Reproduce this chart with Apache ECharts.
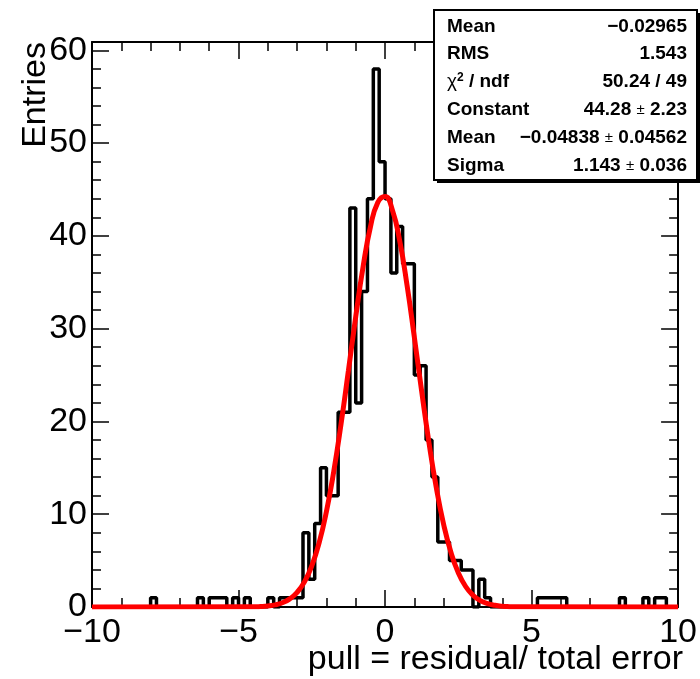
<!DOCTYPE html>
<html><head><meta charset="utf-8">
<script src="https://cdn.jsdelivr.net/npm/echarts@6/dist/echarts.min.js"></script>
<style>html,body{margin:0;padding:0;background:#fff}#c{width:700px;height:679px}</style>
</head><body><div id="c"></div>
<script>
// ---- data ----
const histMin = -10, histMax = 10, binWidth = 0.2;
const binCounts = [
  0,0,0,0,0,0,0,0,0,0,
  1,0,0,0,0,0,0,0,1,0,
  1,1,1,0,1,0,1,0,0,0,
  1,0,1,1,1,1,8,3,9,15,
  12,12,21,21,43,22,34,44,58,48,
  44,36,41,37,37,25,26,18,14,7,
  7,5,5,4,4,0,3,1,0,0,
  0,0,0,0,0,0,1,1,1,1,
  1,0,0,0,0,0,0,0,0,0,
  1,0,0,0,1,0,1,1,0,0
];
const fitX = [-10,-4.5,-4.25,-4,-3.75,-3.5,-3.25,-3,-2.75,-2.5,-2.25,-2,-1.75,-1.5,-1.25,-1,-0.75,-0.5,-0.25,0,0.25,0.5,0.75,1,1.25,1.5,1.75,2,2.25,2.5,2.75,3,3.25,3.5,3.75,4,4.25,4.5,10];
const fitY = [0,0.02,0.05,0.11,0.23,0.46,0.88,1.58,2.71,4.44,6.92,10.30,14.61,19.76,25.47,31.30,36.67,40.95,43.59,44.24,42.80,39.47,34.70,29.08,23.24,17.70,12.85,8.89,5.87,3.69,2.21,1.27,0.69,0.36,0.18,0.08,0.04,0.02,0];
const xTickLabels = [-10,-5,0,5,10];
const yTickLabels = [0,10,20,30,40,50,60];
const statNames = ['Mean','RMS','{chi|χ}{sup|2} / ndf','Constant','Mean','Sigma'];
const statValues = ['−0.02965','1.543','50.24 / 49','44.28 {pm|±} 2.23','−0.04838 {pm|±} 0.04562','1.143 {pm|±} 0.036'];
const xTitle = 'pull = residual/ total error';
const yTitle = 'Entries';

// ---- build ----
const FONT = 'Liberation Sans, Arial, Helvetica, sans-serif';
const histPoints = binCounts.map((c, i) => [histMin + i * binWidth, c]);
histPoints.push([histMax, binCounts[binCounts.length - 1]]);
const fitPoints = fitX.map((x, i) => [x, fitY[i]]);
const minus = s => String(s).replace('-', '\u2212');

const chart = echarts.init(document.getElementById('c'), null, {renderer: 'canvas'});

const frame = {color: '#000', width: 2};
function xAx(pos, labels) {
  return {
    type: 'value', position: pos, min: -10, max: 10, interval: 5,
    axisLine: {show: true, onZero: false, lineStyle: frame},
    axisTick: {show: true, inside: true, length: 17, lineStyle: {color: '#000', width: 1.5}},
    minorTick: {show: true, splitNumber: 5, length: 9, lineStyle: {color: '#000', width: 1.5}},
    splitLine: {show: false}, minorSplitLine: {show: false},
    axisLabel: labels ? {show: true, color: '#000', fontSize: 34, fontFamily: FONT, margin: 9,
      formatter: v => xTickLabels.indexOf(v) >= 0 ? minus(v) : ''} : {show: false}
  };
}
function yAx(pos, major, labels) {
  return {
    type: 'value', position: pos, min: 0, max: 60.9, interval: major ? 10 : 2,
    axisLine: {show: major, onZero: false, lineStyle: frame},
    axisTick: {show: true, inside: true, length: major ? 17 : 9, lineStyle: {color: '#000', width: 1.5}},
    splitLine: {show: false},
    axisLabel: labels ? {show: true, color: '#000', fontSize: 34, fontFamily: FONT, margin: 5,
      formatter: v => yTickLabels.indexOf(v) >= 0 ? String(v) : ''} : {show: false}
  };
}

const boxX = 434, boxY = 10, boxW = 263, boxH = 170;
const rowY = [27, 54, 82, 110, 138, 166];
const statGraphics = [];
statNames.forEach((n, k) => {
  statGraphics.push({type: 'text', x: 447, y: rowY[k], z: 102, style: {
    text: n, fill: '#000', font: 'bold 19px ' + FONT, align: 'left', verticalAlign: 'middle',
    rich: {chi: {font: '19px ' + FONT, fill: '#000'}, sup: {font: 'bold 12px ' + FONT, fill: '#000', verticalAlign: 'top', padding: [0,0,8,0]}}
  }});
  statGraphics.push({type: 'text', x: 687, y: rowY[k], z: 102, style: {
    text: statValues[k], fill: '#000', font: 'bold 19px ' + FONT, align: 'right', verticalAlign: 'middle',
    rich: {pm: {font: '15px ' + FONT, fill: '#000'}}
  }});
});

chart.setOption({
  animation: false,
  backgroundColor: '#fff',
  grid: {left: 92, right: 18, top: 42, bottom: 72, show: false, containLabel: false},
  xAxis: [xAx('bottom', true), xAx('top', false)],
  yAxis: [yAx('left', true, true), yAx('left', false, false), yAx('right', true, false), yAx('right', false, false)],
  series: [
    {type: 'line', name: 'hist', data: histPoints, step: 'end', symbol: 'none', xAxisIndex: 0, yAxisIndex: 0,
      lineStyle: {color: '#000', width: 3.5}, z: 3},
    {type: 'line', name: 'fit', data: fitPoints, smooth: true, symbol: 'none', xAxisIndex: 0, yAxisIndex: 0,
      lineStyle: {color: '#ff0000', width: 5}, z: 4}
  ],
  graphic: [
    {type: 'text', x: 36, y: 42, rotation: Math.PI / 2, style: {text: yTitle, fill: '#000', font: '34px ' + FONT, align: 'right', verticalAlign: 'middle'}},
    {type: 'text', x: 683, y: 660, style: {text: xTitle, fill: '#000', font: '34px ' + FONT, align: 'right', verticalAlign: 'middle'}},
    {type: 'rect', shape: {x: boxX + 3, y: boxY + 3, width: boxW, height: boxH}, style: {fill: '#000'}, z: 100},
    {type: 'rect', shape: {x: boxX, y: boxY, width: boxW, height: boxH}, style: {fill: '#fff', stroke: '#000', lineWidth: 2}, z: 101}
  ].concat(statGraphics)
});
</script></body></html>
